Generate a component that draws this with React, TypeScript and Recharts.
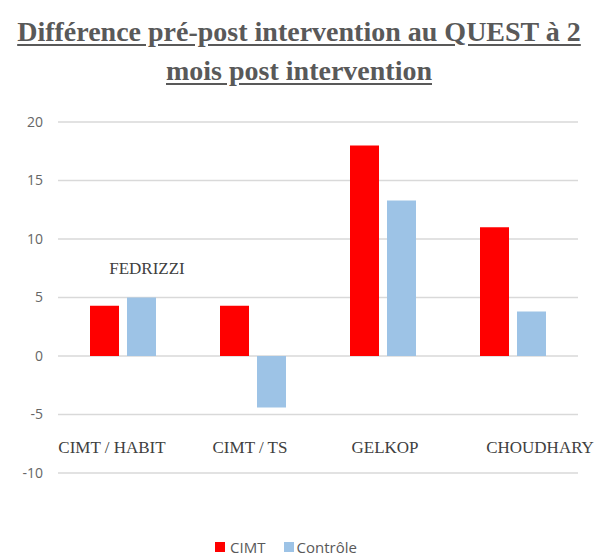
import { BarChart, Bar, XAxis, YAxis, CartesianGrid, Legend, ReferenceDot } from 'recharts';

const studies = ['CIMT / HABIT', 'CIMT / TS', 'GELKOP', 'CHOUDHARY'];
const cimtValues = [4.3, 4.3, 18, 11];
const controleValues = [5, -4.4, 13.3, 3.8];
const yTicks = [-10, -5, 0, 5, 10, 15, 20];

const data = studies.map((name, i) => ({
  name,
  cimt: cimtValues[i],
  controle: controleValues[i],
}));

// décalage horizontal des étiquettes de catégorie (comme dans l'original)
const labelShift: Record<string, number> = {
  'CIMT / HABIT': -11,
  'CIMT / TS': -3,
  GELKOP: 2,
  CHOUDHARY: 27,
};

const CategoryTick = (props: any) => {
  const { x, y, payload } = props;
  return (
    <text
      x={x + (labelShift[payload.value] ?? 0)}
      y={y - 28}
      textAnchor="middle"
      fontFamily="'Liberation Serif', serif"
      fontSize={17}
      fill="#404040"
    >
      {payload.value}
    </text>
  );
};

const LegendContent = () => (
  <div style={{ display: 'flex', justifyContent: 'center', gap: 18, paddingTop: 24, paddingRight: 6, fontFamily: "'Open Sans', sans-serif", fontSize: 15, color: '#595959' }}>
    <span style={{ display: 'flex', alignItems: 'center' }}>
      <span style={{ width: 10, height: 10, background: '#ff0000', marginRight: 5, display: 'inline-block' }} />
      CIMT
    </span>
    <span style={{ display: 'flex', alignItems: 'center' }}>
      <span style={{ width: 10, height: 10, background: '#9dc3e6', marginRight: 3, display: 'inline-block' }} />
      Contrôle
    </span>
  </div>
);

export default function App() {
  return (
    <div style={{ position: 'absolute', left: 0, top: 0, width: 598, height: 556, background: '#fff' }}>
      <div
        style={{
          position: 'absolute',
          top: 12,
          left: 0,
          width: 598,
          textAlign: 'center',
          fontFamily: "'Liberation Serif', serif",
          fontWeight: 'bold',
          fontSize: 28,
          lineHeight: '39px',
          color: '#595959',
          textDecoration: 'underline',
          textUnderlineOffset: 3,
        }}
      >
        Différence pré-post intervention au QUEST à 2
        <br />
        mois post intervention
      </div>
      <div style={{ position: 'absolute', top: 100, left: 0 }}>
        <BarChart
          width={598}
          height={456}
          data={data}
          margin={{ top: 22, right: 20, left: 0, bottom: 0 }}
          barCategoryGap={32}
          barGap={8}
        >
          <CartesianGrid vertical={false} stroke="#d9d9d9" strokeWidth={1.5} />
          <XAxis
            dataKey="name"
            axisLine={false}
            tickLine={false}
            tick={<CategoryTick />}
            height={40}
            interval={0}
          />
          <YAxis
            domain={[-10, 20]}
            ticks={yTicks}
            axisLine={false}
            tickLine={false}
            width={58}
            tickMargin={9}
            tick={{ fontSize: 14, fill: '#666666', fontFamily: "'Open Sans', sans-serif" }}
          />
          <Legend verticalAlign="bottom" height={43} content={<LegendContent />} />
          <ReferenceDot
            x="CIMT / HABIT"
            y={7.5}
            r={0}
            fill="none"
            stroke="none"
            label={{
              value: 'FEDRIZZI',
              position: 'center',
              dx: 24,
              fontFamily: "'Liberation Serif', serif",
              fontSize: 17,
              fill: '#404040',
            }}
          />
          <Bar dataKey="cimt" name="CIMT" fill="#ff0000" barSize={29} isAnimationActive={false} />
          <Bar dataKey="controle" name="Contrôle" fill="#9dc3e6" barSize={29} isAnimationActive={false} />
        </BarChart>
      </div>
    </div>
  );
}
